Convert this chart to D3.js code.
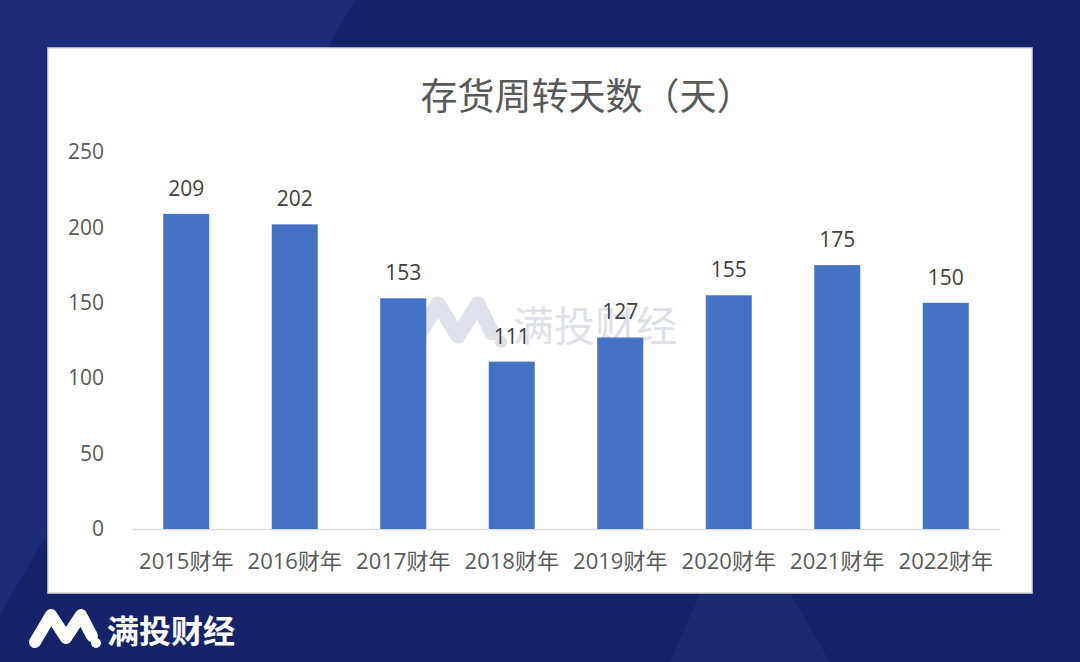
<!DOCTYPE html>
<html>
<head>
<meta charset="utf-8">
<script src="https://cdn.jsdelivr.net/npm/d3@7"></script>
<style>
  html, body { margin: 0; padding: 0; background: #16226a; }
  svg { display: block; }
</style>
</head>
<body>
<div id="chart"></div>
<script>
// data
let categories = ["2015财年", "2016财年", "2017财年", "2018财年", "2019财年", "2020财年", "2021财年", "2022财年"];
let days = [209, 202, 153, 111, 127, 155, 175, 150];
let yTicks = [0, 50, 100, 150, 200, 250];
let title = "存货周转天数（天）";
let brand = "满投财经";

let W = 1080, H = 662;
let panel = {x: 48, y: 48, w: 984, h: 545};
let plot = {left: 132, right: 1000, top: 152, bottom: 529};

let svg = d3.select("#chart").append("svg")
    .attr("width", W)
    .attr("height", H);

/* background */
svg.append("rect").attr("width", W).attr("height", H).attr("fill", "#16226a");
svg.append("path")
    .attr("d", "M0,0 L355,0 L0,615 Z")
    .attr("fill", "#1d2c79");
svg.append("path")
    .attr("d", "M700,593 L790,593 L830,662 L670,662 Z")
    .attr("fill", "#1c2a74");

/* white panel */
svg.append("rect")
    .attr("x", panel.x).attr("y", panel.y)
    .attr("width", panel.w).attr("height", panel.h)
    .attr("fill", "#ffffff")
    .attr("stroke", "#d9d9d9")
    .attr("stroke-width", 1.5);

svg.append("text")
    .attr("x", 587).attr("y", 110)
    .attr("text-anchor", "middle")
    .attr("font-family", "'Noto Sans CJK SC', sans-serif")
    .attr("font-size", 37)
    .attr("fill", "#595959")
    .text(title);

let xScale = d3.scaleBand()
    .domain(categories)
    .range([plot.left, plot.right])
    .paddingInner(0.576)
    .paddingOuter(0.288);

let yScale = d3.scaleLinear()
    .domain([0, 250])
    .range([plot.bottom, plot.top]);

/* y axis labels */
let yAxis = d3.axisLeft(yScale).tickValues(yTicks).tickSize(0).tickPadding(0);
let yAxis_g = svg.append("g")
    .attr("transform", "translate(104,0)")
    .call(yAxis);
yAxis_g.select(".domain").remove();
yAxis_g.selectAll("text")
    .attr("font-family", "'Open Sans', 'Noto Sans', sans-serif")
    .attr("font-size", 21)
    .attr("fill", "#595959");

/* x axis */
let xAxis = d3.axisBottom(xScale).tickSize(0).tickPadding(24);
let xAxis_g = svg.append("g")
    .attr("transform", "translate(0," + plot.bottom + ")")
    .call(xAxis);
xAxis_g.select(".domain").attr("stroke", "#d9d9d9").attr("stroke-width", 1.5);
xAxis_g.selectAll("text")
    .attr("font-family", "'Open Sans', 'Noto Sans CJK SC', sans-serif")
    .attr("font-size", 22)
    .attr("fill", "#595959");

/* watermark */
let wm = svg.append("g").attr("opacity", 0.55);
wm.append("path")
    .attr("d", "M414,343 L438,304 L458,336 L478,304 L492,333")
    .attr("fill", "none")
    .attr("stroke", "#c5c8d8")
    .attr("stroke-width", 15)
    .attr("stroke-linecap", "round")
    .attr("stroke-linejoin", "round");
wm.append("circle").attr("cx", 501).attr("cy", 342).attr("r", 6).attr("fill", "#c5c8d8");
wm.append("text")
    .attr("x", 513).attr("y", 341)
    .attr("font-family", "'Noto Sans CJK SC', sans-serif")
    .attr("font-size", 41)
    .attr("fill", "#c5c8d8")
    .text(brand);

/* bars */
svg.selectAll(".bar")
    .data(days)
    .enter()
    .append("rect")
    .attr("class", "bar")
    .attr("fill", "#4472c4")
    .attr("x", function(d, i) { return xScale(categories[i]); })
    .attr("width", xScale.bandwidth())
    .attr("y", function(d) { return yScale(d); })
    .attr("height", function(d) { return plot.bottom - yScale(d); });

svg.selectAll(".label")
    .data(days)
    .enter()
    .append("text")
    .attr("class", "label")
    .attr("x", function(d, i) { return xScale(categories[i]) + xScale.bandwidth() / 2; })
    .attr("y", function(d) { return yScale(d) - 18; })
    .attr("text-anchor", "middle")
    .attr("font-family", "'Open Sans', 'Noto Sans', sans-serif")
    .attr("font-size", 21)
    .attr("fill", "#404040")
    .text(function(d) { return d; });

/* bottom logo */
let logo = svg.append("g");
logo.append("path")
    .attr("d", "M35,642 L51,615 L66,638 L81,615 L92,636")
    .attr("fill", "none")
    .attr("stroke", "#ffffff")
    .attr("stroke-width", 12)
    .attr("stroke-linecap", "round")
    .attr("stroke-linejoin", "round");
logo.append("circle").attr("cx", 96).attr("cy", 643).attr("r", 5).attr("fill", "#ffffff");
logo.append("text")
    .attr("x", 107).attr("y", 643)
    .attr("font-family", "'Noto Sans CJK SC', sans-serif")
    .attr("font-weight", "bold")
    .attr("font-size", 32)
    .attr("fill", "#ffffff")
    .text(brand);
</script>
</body>
</html>
